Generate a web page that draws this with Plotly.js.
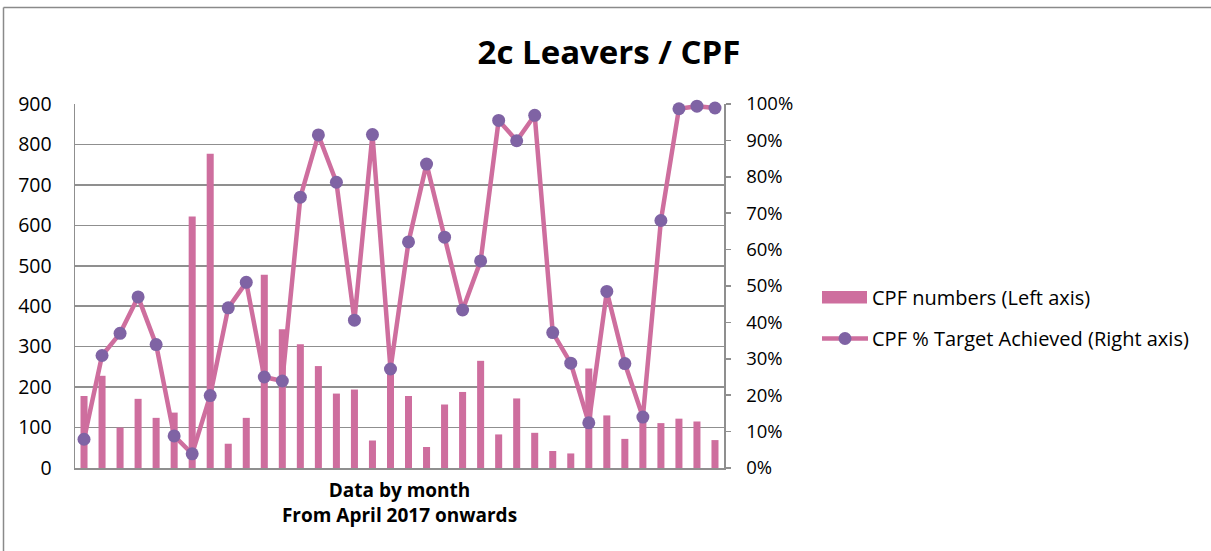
<!DOCTYPE html>
<html>
<head>
<meta charset="utf-8">
<script src="https://cdn.plot.ly/plotly-3.0.1.min.js"></script>
<style>
  html, body { margin: 0; padding: 0; background: #ffffff; }
  #chart { width: 1211px; height: 551px; }
</style>
</head>
<body>
<div id="chart"></div>
<script>
// ---- Data ----
const months = [
  "Apr 2017","May 2017","Jun 2017","Jul 2017","Aug 2017","Sep 2017","Oct 2017","Nov 2017","Dec 2017",
  "Jan 2018","Feb 2018","Mar 2018","Apr 2018","May 2018","Jun 2018","Jul 2018","Aug 2018","Sep 2018",
  "Oct 2018","Nov 2018","Dec 2018","Jan 2019","Feb 2019","Mar 2019","Apr 2019","May 2019","Jun 2019",
  "Jul 2019","Aug 2019","Sep 2019","Oct 2019","Nov 2019","Dec 2019","Jan 2020","Feb 2020","Mar 2020"
];
const cpfNumbers = [
  178, 228, 100, 171, 124, 137, 622, 777, 60,
  124, 478, 343, 306, 252, 184, 194, 68, 250,
  178, 52, 157, 188, 265, 83, 172, 87, 42,
  36, 246, 130, 72, 130, 111, 122, 115, 69
];
const cpfTargetPct = [
  0.079, 0.309, 0.370, 0.470, 0.339, 0.088, 0.039, 0.199, 0.440,
  0.510, 0.250, 0.239, 0.744, 0.915, 0.785, 0.406, 0.916, 0.272,
  0.621, 0.835, 0.634, 0.434, 0.569, 0.955, 0.899, 0.969, 0.372,
  0.288, 0.124, 0.485, 0.287, 0.140, 0.680, 0.987, 0.994, 0.989
];
const seriesNames = ["CPF numbers (Left axis)", "CPF % Target Achieved (Right axis)"];
const chartTitle = "2c Leavers / CPF";
const xTitleLines = ["Data by month", "From April 2017 onwards"];

// ---- Styles ----
const PINK = "#CE6E9E";
const PURPLE = "#7F63A4";
const GRID = "#8f8f8f";
const FONT = "Open Sans, DejaVu Sans, sans-serif";

// plot-area geometry (pixels) used only for the hand-made legend / frame
const W = 1211, H = 551;
const M = { l: 75, r: 487, t: 104, b: 83 };
const PW = W - M.l - M.r, PH = H - M.t - M.b;
const px = x => (x - M.l) / PW;
const py = y => (H - M.b - y) / PH;

const traces = [
  {
    type: "bar",
    name: seriesNames[0],
    x: months,
    y: cpfNumbers,
    marker: { color: PINK },
    yaxis: "y",
    showlegend: false,
    hoverinfo: "x+y"
  },
  {
    type: "scatter",
    mode: "lines+markers",
    name: seriesNames[1],
    x: months,
    y: cpfTargetPct,
    yaxis: "y2",
    line: { color: PINK, width: 4.5 },
    marker: { color: PURPLE, size: 13 },
    cliponaxis: false,
    showlegend: false,
    hoverinfo: "x+y"
  }
];

const legendShapes = [
  // bar swatch
  { type: "rect", xref: "paper", yref: "paper",
    x0: px(822), x1: px(867), y0: py(303.5), y1: py(291), fillcolor: PINK, line: { width: 0 } },
  // line swatch
  { type: "line", xref: "paper", yref: "paper",
    x0: px(822), x1: px(868), y0: py(338.5), y1: py(338.5), line: { color: PINK, width: 4.5 } },
  { type: "circle", xref: "paper", yref: "paper",
    x0: px(838.5), x1: px(851.5), y0: py(345), y1: py(332), fillcolor: PURPLE, line: { width: 0 } },
  // outer chart frame (top & left edges visible in reference)
  { type: "line", xref: "paper", yref: "paper",
    x0: px(3.5), x1: px(1215), y0: py(7.5), y1: py(7.5), line: { color: "#8a8a8a", width: 1.5 } },
  { type: "line", xref: "paper", yref: "paper",
    x0: px(3.5), x1: px(3.5), y0: py(7.5), y1: py(560), line: { color: "#8a8a8a", width: 1.5 } }
];

const legendText = [
  { xref: "paper", yref: "paper", x: px(870), y: py(297), xanchor: "left", yanchor: "middle",
    text: seriesNames[0], showarrow: false, font: { family: FONT, size: 20, color: "#000" } },
  { xref: "paper", yref: "paper", x: px(870), y: py(338), xanchor: "left", yanchor: "middle",
    text: seriesNames[1], showarrow: false, font: { family: FONT, size: 20, color: "#000" } }
];

const layout = {
  width: W, height: H,
  margin: M,
  paper_bgcolor: "#ffffff",
  plot_bgcolor: "#ffffff",
  font: { family: FONT, size: 18, color: "#000" },
  title: {
    text: "<b>" + chartTitle + "</b>",
    xref: "container", yref: "container",
    x: 609 / W, y: 1 - 52 / H, xanchor: "center", yanchor: "middle",
    font: { family: FONT, size: 33, color: "#000" }
  },
  bargap: 0.61,
  showlegend: false,
  xaxis: {
    type: "category",
    range: [-0.5, months.length - 0.5],
    autorange: false,
    showticklabels: false,
    ticks: "",
    showgrid: false,
    showline: true, linecolor: GRID, linewidth: 1.5,
    zeroline: false,
    title: {
      text: "<b>" + xTitleLines[0] + "</b><br><b>" + xTitleLines[1] + "</b>",
      font: { family: FONT, size: 19, color: "#000" },
      standoff: 15
    }
  },
  yaxis: {
    range: [0, 900],
    dtick: 100,
    tick0: 0,
    showgrid: true, gridcolor: GRID, gridwidth: 1.5,
    showline: true, linecolor: GRID, linewidth: 1.5,
    zeroline: false,
    ticks: "",
    ticklabelstandoff: 18,
    tickfont: { family: FONT, size: 19.5, color: "#000" },
    fixedrange: true
  },
  yaxis2: {
    overlaying: "y",
    side: "right",
    range: [0, 1],
    dtick: 0.1,
    tick0: 0,
    tickformat: ".0%",
    showgrid: false,
    showline: true, linecolor: GRID, linewidth: 1.5,
    zeroline: false,
    ticks: "outside", ticklen: 5, tickcolor: GRID, tickwidth: 1.5,
    ticklabelstandoff: 12,
    tickfont: { family: FONT, size: 18.5, color: "#000" },
    fixedrange: true
  },
  shapes: legendShapes,
  annotations: legendText
};

Plotly.newPlot("chart", traces, layout, { staticPlot: true, displayModeBar: false });
</script>
</body>
</html>
